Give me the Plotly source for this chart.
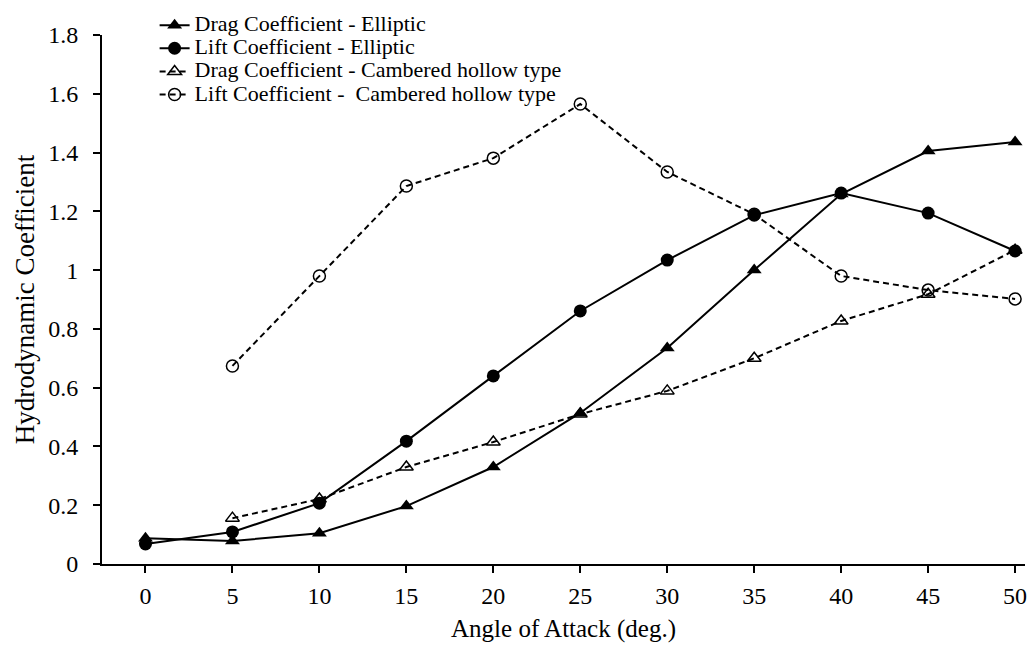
import plotly.graph_objects as go

angles = [0, 5, 10, 15, 20, 25, 30, 35, 40, 45, 50]
angles_camb = [5, 10, 15, 20, 25, 30, 35, 40, 45, 50]
drag_elliptic = [0.088, 0.078, 0.105, 0.197, 0.33, 0.514, 0.735, 1.0, 1.259, 1.405, 1.436]
lift_elliptic = [0.068, 0.109, 0.207, 0.418, 0.64, 0.861, 1.034, 1.187, 1.262, 1.194, 1.065]
drag_cambered = [0.156, 0.221, 0.33, 0.415, 0.51, 0.589, 0.70, 0.827, 0.918, 1.068]
lift_cambered = [0.674, 0.98, 1.286, 1.381, 1.565, 1.334, 1.19, 0.98, 0.932, 0.902]
names = ["Drag Coefficient - Elliptic", "Lift Coefficient - Elliptic",
         "Drag Coefficient - Cambered hollow type", "Lift Coefficient -  Cambered hollow type"]
x_ticks = [0, 5, 10, 15, 20, 25, 30, 35, 40, 45, 50]
y_ticks = [0, 0.2, 0.4, 0.6, 0.8, 1, 1.2, 1.4, 1.6, 1.8]
y_tick_text = ["0", "0.2", "0.4", "0.6", "0.8", "1", "1.2", "1.4", "1.6", "1.8"]

FONT = "Liberation Serif, Times New Roman, serif"


def leg(name):
    return '<span style="font-size:22px">' + name.replace("  ", " &nbsp;") + "</span>"


fig = go.Figure()
fig.add_trace(go.Scatter(x=angles, y=drag_elliptic, name=leg(names[0]), mode="lines+markers",
                         line=dict(color="black", width=2),
                         marker=dict(symbol="triangle-up", size=13, color="black")))
fig.add_trace(go.Scatter(x=angles, y=lift_elliptic, name=leg(names[1]), mode="lines+markers",
                         line=dict(color="black", width=2),
                         marker=dict(symbol="circle", size=13, color="black")))
fig.add_trace(go.Scatter(x=angles_camb, y=drag_cambered, name=leg(names[2]), mode="lines+markers",
                         line=dict(color="black", width=2, dash="6px,4px"),
                         marker=dict(symbol="triangle-up-open", size=12, color="black",
                                     line=dict(width=1.5, color="black"))))
fig.add_trace(go.Scatter(x=angles_camb, y=lift_cambered, name=leg(names[3]), mode="lines+markers",
                         line=dict(color="black", width=2, dash="6px,4px"),
                         marker=dict(symbol="circle-open", size=12, color="black",
                                     line=dict(width=1.5, color="black"))))

fig.update_layout(
    width=1027, height=646,
    margin=dict(l=102, r=0, t=35, b=82),
    paper_bgcolor="white", plot_bgcolor="white",
    font=dict(family=FONT, color="black", size=20),
    showlegend=True,
    legend=dict(x=0.057, y=1.05, xanchor="left", yanchor="top",
                font=dict(family=FONT, size=15.5, color="black"),
                bgcolor="rgba(255,255,255,0)", tracegroupgap=0, itemwidth=30),
    xaxis=dict(range=[-2.5, 50.57], tickvals=x_ticks, ticks="outside", ticklen=7, tickwidth=2,
               tickcolor="black", showline=True, linecolor="black", linewidth=2,
               showgrid=False, zeroline=False, tickfont=dict(size=24), ticklabelstandoff=2,
               ticklabeloverflow="allow",
               title=dict(text="Angle of Attack (deg.)", font=dict(size=25), standoff=12)),
    yaxis=dict(range=[0, 1.8], tickvals=y_ticks, ticktext=y_tick_text, ticks="outside",
               ticklen=7, tickwidth=2, tickcolor="black", showline=True, linecolor="black",
               linewidth=2, showgrid=False, zeroline=False, tickfont=dict(size=24),
               ticklabelstandoff=10,
               title=dict(text="Hydrodynamic Coefficient", font=dict(size=27), standoff=6)),
)

fig.write_html("out.html", config={"displayModeBar": False},
               post_script="document.body.style.margin='0';")
